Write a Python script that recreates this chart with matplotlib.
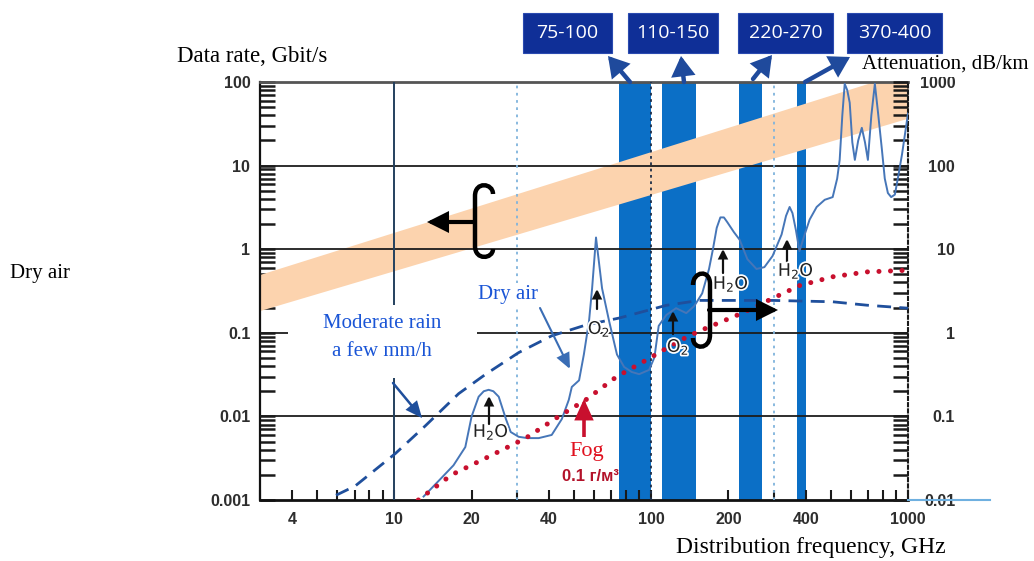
import numpy as np
import matplotlib
matplotlib.use("Agg")
import matplotlib.pyplot as plt
from matplotlib.transforms import Affine2D
from matplotlib.patches import Rectangle, FancyArrowPatch, PathPatch
from matplotlib.path import Path
from matplotlib.lines import Line2D
import matplotlib.patheffects as pe
from matplotlib.ticker import LogLocator, NullFormatter

# ---------------- data ----------------
# candidate transmission windows, GHz
window_lo = [75, 110, 220, 370]
window_hi = [100, 150, 270, 400]

# achievable data rate band (Gbit/s) versus frequency
rate_freq = [3, 1000]
rate_low = [0.185, 37]
rate_high = [0.5, 136]

# dry air attenuation, dB/km
dry_freq = [13, 14.9, 17, 18.9, 20, 21.3, 22.3, 23.3, 24.3, 25.5, 27.2, 28.4,
            30.5, 33, 36.5, 41, 44.9, 47.8, 49.1, 52.4, 54.7, 57.3, 58.9,
            61, 64.4, 68.6, 73.6, 78.5, 84, 89.8, 98.2, 103, 107, 114.5,
            125, 137, 147, 158, 168, 174, 180, 186, 192, 198, 210, 221, 237,
            257, 276, 297, 322, 335, 346, 355, 366, 378, 396, 414, 441,
            474, 509, 530, 542, 555, 567, 580, 593, 607, 621, 640, 661, 680, 698,
            720, 743, 765, 791, 812, 835, 860, 889, 920, 948, 1000]
dry_att = [0.011, 0.017, 0.026, 0.043, 0.1, 0.172, 0.2, 0.208, 0.2, 0.172, 0.093, 0.065,
           0.057, 0.055, 0.055, 0.06, 0.093, 0.158, 0.225, 0.27, 0.55, 1.38, 3.4,
           13.8, 3.4, 1.38, 0.55, 0.39, 0.34, 0.32, 0.36, 0.51, 1.21, 1.63,
           1.97, 1.72, 2.08, 2.96, 5.8, 10, 18, 24, 24, 21, 16, 13, 7.6,
           5.8, 6.1, 8.3, 15, 25, 32, 27, 17, 9.5, 15, 22.6, 32,
           39, 42, 70, 117, 400, 950, 800, 565, 190, 117, 200, 283, 190, 117,
           400, 950, 420, 158, 70, 47, 42, 45, 80, 137, 420]

# moderate rain (a few mm/h), dB/km
rain_freq = [5.93, 7.04, 10.1, 13.2, 17.8, 22.7, 30.5, 41, 55.7, 75,
             114.5, 154, 297, 378, 509, 690, 1000]
rain_att = [0.0114, 0.0147, 0.036, 0.077, 0.187, 0.32, 0.58, 0.92, 1.24, 1.5,
            2.13, 2.44, 2.44, 2.4, 2.35, 2.14, 1.97]

# fog 0.1 g/m^3, dB/km
fog_freq = [12.4, 16.7, 23.3, 32.5, 43.7, 55.7, 73, 95.5, 128.5, 154,
            226, 297, 378, 509, 690, 1000]
fog_att = [0.01, 0.02, 0.033, 0.055, 0.1, 0.158, 0.295, 0.47, 0.8, 1.05,
           1.72, 2.58, 3.67, 4.68, 5.35, 5.6]

x_ticks = [4, 10, 20, 40, 100, 200, 400, 1000]
x_tick_labels = ["4", "10", "20", "40", "100", "200", "400", "1000"]
rate_ticks = [0.001, 0.01, 0.1, 1, 10, 100]
rate_tick_labels = ["0.001", "0.01", "0.1", "1", "10", "100"]
att_ticks = [0.01, 0.1, 1, 10, 100, 1000]
att_tick_labels = ["0.01", "0.1", "1", "10", "100", "1000"]

# ---------------- style ----------------
BAR = "#0b6fc6"
PEACH = "#fcd3ae"
DRY = "#4676b8"
RAIN = "#1f4f9c"
FOG = "#c8102e"
BOX = "#0f2f97"
ARROW_BLUE = "#1f4a9c"
LABEL_BLUE = "#1a55d6"
SERIF = "Liberation Serif"
SANS = "Liberation Sans"
TICK_COLOR = "#2e2e2e"

W, H = 1034, 561
fig = plt.figure(figsize=(W / 100, H / 100), dpi=100)
fig.patch.set_facecolor("white")
# pixel coordinates measured from the top-left corner of the canvas
PX = Affine2D().scale(1 / W, -1 / H).translate(0, 1) + fig.transFigure

ax = fig.add_axes([260 / W, 1 - 500 / H, 648 / W, 418 / H])
ax.set_xscale("log")
ax.set_yscale("log")
ax.set_xlim(3, 1000)
ax.set_ylim(0.001, 100)

ax2 = ax.twinx()
ax2.set_yscale("log")
ax2.set_ylim(0.01, 1000)

# windows and data-rate band
for lo, hi in zip(window_lo, window_hi):
    ax.axvspan(lo, hi, color=BAR, lw=0, zorder=1)
ax.fill_between(rate_freq, rate_low, rate_high, color=PEACH, lw=0, zorder=2)

# grid
for v in [0.01, 0.1, 1, 10]:
    ax.axhline(v, color="#1c1c1c", lw=1.3, zorder=3)
ax.axvline(10, color="#24405e", lw=1.4, zorder=3)
ax.axvline(100, color="#1e2e48", lw=1.3, ls=(0, (1.5, 2)), zorder=3)
for v in [30, 300]:
    ax.axvline(v, color="#7fb3dc", lw=1.3, ls=(0, (1.5, 2.5)), zorder=3)

# attenuation curves
ax2.plot(dry_freq, dry_att, color=DRY, lw=1.4, zorder=4, solid_joinstyle="round")
ax2.plot(rain_freq, rain_att, color=RAIN, lw=2.0, ls=(0, (5, 3)), zorder=5)
ax2.plot(fog_freq, fog_att, color=FOG, lw=3.6, ls=(0, (0.01, 2.3)),
         dash_capstyle="round", zorder=6)

# ticks
tick_font = dict(family=SANS, weight="bold", size=11.5, color=TICK_COLOR)
ax.set_xticks(x_ticks)
ax.set_xticklabels(x_tick_labels, **tick_font)
ax.xaxis.set_minor_locator(LogLocator(base=10, subs=np.arange(2, 10) * 1.0, numticks=20))
ax.xaxis.set_minor_formatter(NullFormatter())
ax.tick_params(axis="x", which="both", direction="in", length=7, width=1.5,
               color="#1a1a1a", pad=9, top=False)

ax.set_yticks(rate_ticks)
ax.set_yticklabels(rate_tick_labels, **tick_font)
ax.yaxis.set_minor_locator(LogLocator(base=10, subs=np.arange(2, 10) * 1.0, numticks=20))
ax.yaxis.set_minor_formatter(NullFormatter())
ax.tick_params(axis="y", which="both", direction="in", length=11, width=1.8,
               color="#1a1a1a", pad=7, left=True, right=False)

ax2.set_yticks(att_ticks)
ax2.set_yticklabels(att_tick_labels, **tick_font)
ax2.yaxis.set_minor_locator(LogLocator(base=10, subs=np.arange(2, 10) * 1.0, numticks=20))
ax2.yaxis.set_minor_formatter(NullFormatter())
ax2.tick_params(axis="y", which="both", direction="in", length=11, width=1.8,
                color="#1a1a1a", pad=34)
plt.setp(ax2.get_yticklabels(), ha="right")

# spines
ax.spines["right"].set_visible(False)
ax.spines["top"].set_color("#555555")
ax.spines["top"].set_linewidth(2)
ax.spines["bottom"].set_color("#111111")
ax.spines["bottom"].set_linewidth(2)
ax.spines["left"].set_color("#111111")
ax.spines["left"].set_linewidth(1.6)
for s in ["left", "top", "bottom"]:
    ax2.spines[s].set_visible(False)
ax2.spines["right"].set_linestyle((0, (1.5, 1.5)))
ax2.spines["right"].set_color("#1a1a1a")
ax2.spines["right"].set_linewidth(1.5)


# ---------------- annotations ----------------
def white_box(x, y, w, h):
    fig.add_artist(Rectangle((x, y), w, h, transform=PX, facecolor="white",
                             edgecolor="none", zorder=5))


def arrow(p0, p1, color, lw, hl, hw, z=6):
    fig.add_artist(FancyArrowPatch(p0, p1, transform=PX, color=color, lw=lw,
                                   arrowstyle=f"-|>,head_length={hl},head_width={hw}",
                                   mutation_scale=1, shrinkA=0, shrinkB=0,
                                   joinstyle="miter", zorder=z))


def text(x, y, s, **kw):
    kw.setdefault("zorder", 7)
    fig.text(x, y, s, transform=PX, **kw)


# axis titles
text(177, 57, "Data rate, Gbit/s", family=SERIF, size=16.5, ha="left", va="center")
white_box(852, 50, 182, 27)
text(862, 64, "Attenuation, dB/km", family=SERIF, size=15, ha="left", va="center")
text(676, 548, "Distribution frequency, GHz", family=SERIF, size=17, ha="left", va="center")
text(10, 274, "Dry air", family=SERIF, size=15, ha="left", va="center")

# window label boxes with pointers to the bands
box_x = [523, 628, 738, 847]
box_w = [89, 90, 95, 95]
arrow_tail = [(630, 82), (684, 82), (753, 79), (805, 82)]
arrow_head = [(608, 56), (681, 56), (772, 55), (850, 57)]
for lo, hi, bx, bw, t, h in zip(window_lo, window_hi, box_x, box_w, arrow_tail, arrow_head):
    fig.add_artist(Rectangle((bx, 13), bw, 40, transform=PX, facecolor=BOX,
                             edgecolor="#2a4ab0", lw=0.8, zorder=5))
    text(bx + bw / 2, 33, f"{lo}-{hi}", family="Open Sans", size=14,
         color="white", ha="center", va="center")
    arrow(t, h, ARROW_BLUE, 3.2, 10, 6)

# brackets with arrows pointing to the matching axis
bracket_left = Path([(493, 194), (493, 183), (475, 181), (475, 196), (475, 246),
                     (475, 261), (493, 259), (493, 249)],
                    [Path.MOVETO, Path.CURVE4, Path.CURVE4, Path.CURVE4, Path.LINETO,
                     Path.CURVE4, Path.CURVE4, Path.CURVE4])
fig.add_artist(PathPatch(bracket_left, transform=PX, facecolor="none",
                         edgecolor="black", lw=3.2, zorder=6))
arrow((474, 222), (427, 222), "black", 3.0, 11, 5.5)

bracket_right = Path([(693, 285), (693, 271), (710, 269), (710, 284), (710, 335),
                      (710, 350), (693, 350), (693, 338)],
                     [Path.MOVETO, Path.CURVE4, Path.CURVE4, Path.CURVE4, Path.LINETO,
                      Path.CURVE4, Path.CURVE4, Path.CURVE4])
fig.add_artist(PathPatch(bracket_right, transform=PX, facecolor="none",
                         edgecolor="black", lw=3.2, zorder=6))
arrow((709, 310), (778, 310), "black", 3.0, 11, 5.5)

# absorption lines
halo = [pe.withStroke(linewidth=2.5, foreground="white")]
lines = [(r"H$_2$O", (491, 432), (489, 424), (489, 396)),
         (r"O$_2$", (599, 329), (597, 309), (597, 289)),
         (r"O$_2$", (678, 347), (673, 334), (673, 311)),
         (r"H$_2$O", (731, 284), (723, 273), (723, 249)),
         (r"H$_2$O", (796, 271), (787, 262), (787, 239))]
for s, pos, a0, a1 in lines:
    arrow(a0, a1, "#111111", 1.6, 5, 2.5)
    text(pos[0], pos[1], s, size=12.5, color="#222222",
         ha="center", va="center", path_effects=halo)

# curve labels
white_box(288, 305, 189, 73)
text(382, 324, "Moderate rain", family=SERIF, size=15, color=LABEL_BLUE, ha="center", va="center")
text(382, 352, "a few mm/h", family=SERIF, size=15, color=LABEL_BLUE, ha="center", va="center")
arrow((393, 383), (422, 418), RAIN, 1.8, 9, 4)

white_box(466, 283, 82, 25)
text(508, 295, "Dry air", family=SERIF, size=15, color=LABEL_BLUE, ha="center", va="center")
arrow((540, 308), (570, 369), "#3a6db5", 1.5, 9, 4)

arrow((584, 440), (584, 399), FOG, 2.6, 11, 5, z=4)
white_box(555, 437, 64, 31)
text(587, 452, "Fog", family=SERIF, size=16, color="#e0101e", ha="center", va="center")
text(590, 477, "0.1 \u0433/\u043c\u00b3", family=SANS, size=12, weight="bold",
     color="#b3122a", ha="center", va="center")

# baseline extension on the right
fig.add_artist(Line2D([908, 990], [500, 500], transform=PX, color="#6fb0e0", lw=1.5, zorder=2))

fig.savefig("out.png", dpi=100, facecolor="white")
